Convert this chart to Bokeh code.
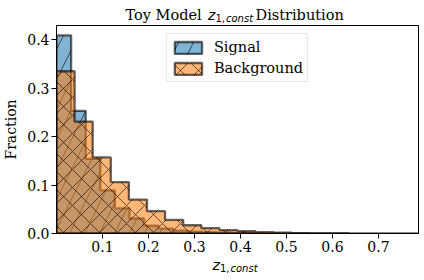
import numpy as np
from bokeh.plotting import figure
from bokeh.layouts import column
from bokeh.models import Range1d, FixedTicker, Label, NumeralTickFormatter
from bokeh.embed import file_html
from bokeh.resources import INLINE

# ---------------- data ----------------
series_names = ["Signal", "Background"]
n_bins = 20
signal_range = [0.0, 0.635]
background_range = [0.0, 0.787]
signal_fraction = [0.409, 0.253, 0.154, 0.089, 0.052, 0.031, 0.016, 0.010,
                   0.006, 0.004, 0.003, 0.002, 0.0013, 0.0008, 0.0005,
                   0.0003, 0.0002, 0.0001, 0.0001, 0.0001]
background_fraction = [0.335, 0.231, 0.157, 0.106, 0.070, 0.046, 0.028, 0.017,
                       0.011, 0.007, 0.005, 0.003, 0.002, 0.0006, 0.0004,
                       0.0003, 0.0002, 0.0001, 0.0001, 0.0001]
x_ticks = [0.1, 0.2, 0.3, 0.4, 0.5, 0.6, 0.7]
y_ticks = [0.0, 0.1, 0.2, 0.3, 0.4]
title_text = ["Toy Model", "z", "1,", "const", "Distribution"]
x_label_text = ["z", "1,", "const"]
y_label_text = "Fraction"

SERIF = "DejaVu Serif"
SANS = "DejaVu Sans"

W = 424
TITLE_H, MAIN_H, XLAB_H = 25, 233, 22
BL, BR, BB = 55, 6, 25
OFF = 57  # strip frames are aligned with the main frame


def step_outline(rng, heights):
    edges = np.linspace(rng[0], rng[1], n_bins + 1)
    xs = np.repeat(edges, 2)
    ys = np.concatenate([[0.0], np.repeat(np.asarray(heights, float), 2), [0.0]])
    return xs, ys


def text_strip(height):
    f = figure(width=W, height=height, output_backend="svg", toolbar_location=None,
               x_axis_location=None, y_axis_location=None,
               x_range=Range1d(0, 1), y_range=Range1d(0, 1),
               min_border=0)
    f.outline_line_color = None
    f.background_fill_color = "white"
    f.border_fill_color = "white"
    f.grid.visible = False
    return f


def add_text(f, txt, x, y, size, font, style="normal"):
    f.add_layout(Label(x=x - OFF, y=y, x_units="screen", y_units="screen", text=txt,
                       text_font=font, text_font_size=size, text_font_style=style,
                       text_align="left", text_baseline="alphabetic",
                       text_color="black"))


# ---------------- title strip ----------------
pt = text_strip(TITLE_H)
add_text(pt, title_text[0], 126, 10.5, "14.5px", SERIF)
add_text(pt, title_text[1], 208.5, 10.5, "14px", SANS, "italic")
add_text(pt, title_text[2], 216, 7.5, "10px", SANS)
add_text(pt, title_text[3], 226.5, 7.5, "10px", SANS, "italic")
add_text(pt, title_text[4], 256, 10.5, "14.5px", SERIF)

# ---------------- main plot ----------------
ymax = 1.05 * max(max(signal_fraction), max(background_fraction))
p = figure(width=W, height=MAIN_H, output_backend="svg", toolbar_location=None,
           title=None,
           x_range=Range1d(min(signal_range[0], background_range[0]),
                           max(signal_range[1], background_range[1])),
           y_range=Range1d(0, ymax),
           min_border_left=BL, min_border_right=BR, min_border_top=0,
           min_border_bottom=BB)
p.background_fill_color = "white"
p.border_fill_color = "white"
p.outline_line_color = "black"
p.outline_line_width = 1
p.outline_line_alpha = 1
p.xgrid.visible = False
p.ygrid.visible = False

sx, sy = step_outline(signal_range, signal_fraction)
bx, by = step_outline(background_range, background_fraction)

p.patch(sx, sy, fill_color="#1f77b4", fill_alpha=0.56,
        line_color="black", line_alpha=0.6, line_width=2.3,
        hatch_pattern="right_diagonal_line",
        hatch_color="black", hatch_alpha=0.6, hatch_scale=30, hatch_weight=1,
        legend_label=series_names[0])
p.patch(bx, by, fill_color="#ff7f0e", fill_alpha=0.56,
        line_color="black", line_alpha=0.6, line_width=2.3,
        hatch_pattern="diagonal_cross",
        hatch_color="black", hatch_alpha=0.6, hatch_scale=18, hatch_weight=1,
        legend_label=series_names[1])

for ax in (p.xaxis[0], p.yaxis[0]):
    ax.axis_line_color = "black"
    ax.major_tick_line_color = "black"
    ax.major_tick_in = 0
    ax.major_tick_out = 5
    ax.minor_tick_line_color = None
    ax.major_label_text_font = SERIF
    ax.major_label_text_font_size = "14px"
    ax.major_label_text_color = "black"
    ax.major_label_standoff = 2
p.xaxis.ticker = FixedTicker(ticks=x_ticks)
p.yaxis.ticker = FixedTicker(ticks=y_ticks)
p.yaxis.formatter = NumeralTickFormatter(format="0.0")
p.xaxis.formatter = NumeralTickFormatter(format="0.0")
p.yaxis.axis_label = y_label_text
p.yaxis.axis_label_text_font = SERIF
p.yaxis.axis_label_text_font_size = "14px"
p.yaxis.axis_label_text_font_style = "normal"
p.yaxis.axis_label_text_color = "black"
p.yaxis.axis_label_standoff = 5

lg = p.legend[0]
lg.location = "top_center"
lg.margin = 8
lg.padding = 4
lg.spacing = 3
lg.glyph_width = 34
lg.glyph_height = 15
lg.label_height = 18
lg.label_standoff = 9
lg.label_text_font = SERIF
lg.label_text_font_size = "14.5px"
lg.label_text_color = "black"
lg.border_line_color = "#cccccc"
lg.border_line_width = 1
lg.background_fill_alpha = 0.8

# ---------------- x label strip ----------------
px = text_strip(XLAB_H)
add_text(px, x_label_text[0], 213, 15.5, "14px", SANS, "italic")
add_text(px, x_label_text[1], 220.5, 12.5, "10px", SANS)
add_text(px, x_label_text[2], 231, 12.5, "10px", SANS, "italic")

layout = column(pt, p, px, spacing=0)
open("out.html", "w").write(file_html(layout, INLINE))
